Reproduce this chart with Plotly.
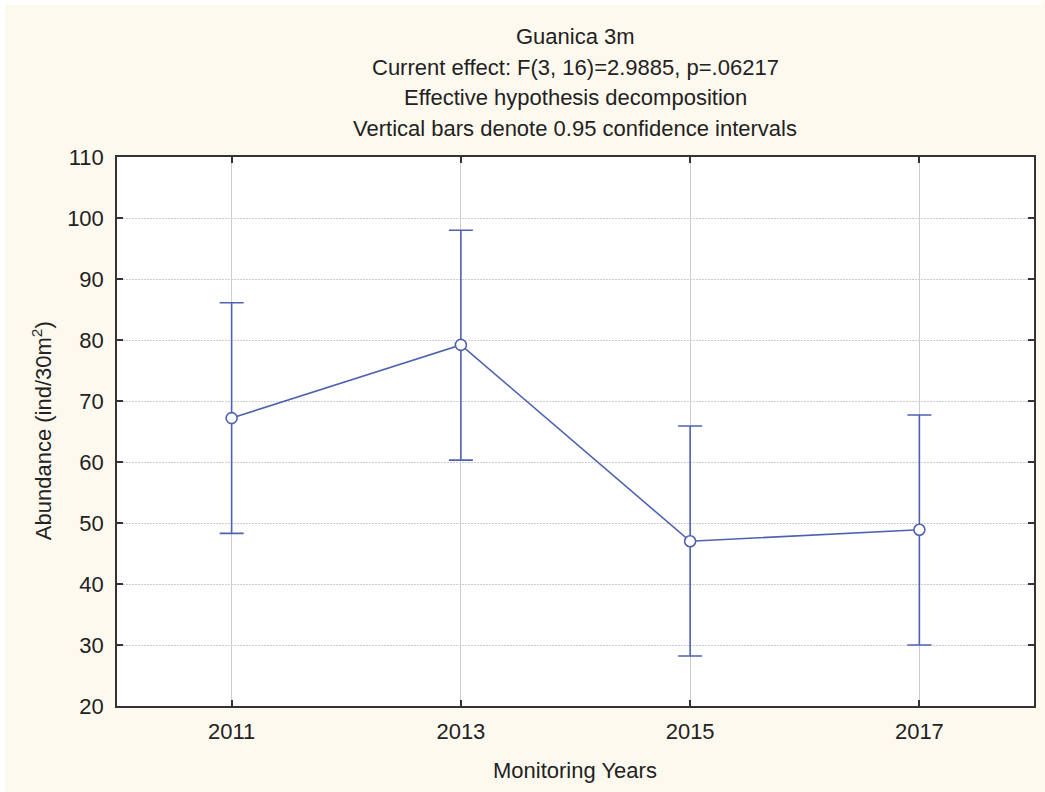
import plotly.graph_objects as go

years = [2011, 2013, 2015, 2017]
means = [67.2, 79.2, 47.0, 48.9]
upper = [86.1, 98.0, 65.9, 67.7]
lower = [48.3, 60.3, 28.2, 30.0]

title_lines = [
    "Guanica 3m",
    "Current effect: F(3, 16)=2.9885, p=.06217",
    "Effective hypothesis decomposition",
    "Vertical bars denote 0.95 confidence intervals",
]

line_color = "#4F62B2"
cream = "#FEF9EE"
font_family = "Liberation Sans, Arial, sans-serif"
text_color = "#222222"
fs = 22

err_plus = [u - m for u, m in zip(upper, means)]
err_minus = [m - l for m, l in zip(means, lower)]

fig = go.Figure()
fig.add_trace(go.Scatter(
    x=years, y=means, mode="lines+markers",
    line=dict(color=line_color, width=1.6),
    marker=dict(symbol="circle", size=11, color="white",
                line=dict(color=line_color, width=1.6)),
    error_y=dict(type="data", symmetric=False, array=err_plus,
                 arrayminus=err_minus, color=line_color,
                 thickness=1.6, width=12),
    showlegend=False,
))

L, R, T, B = 117, 9, 157, 86
W, H = 1045, 792
pw, ph = W - L - R, H - T - B

def py(y):
    return (H - B - y) / ph

def px(x):
    return (x - L) / pw

annotations = []
for txt, yc in zip(title_lines, [37, 67, 97, 128]):
    annotations.append(dict(
        text=txt, x=px(576), y=py(yc), xref="paper", yref="paper",
        xanchor="center", yanchor="middle", showarrow=False,
        font=dict(size=fs, color=text_color, family=font_family)))

annotations.append(dict(
    text="Monitoring Years", x=px(576), y=py(770), xref="paper", yref="paper",
    xanchor="center", yanchor="middle", showarrow=False,
    font=dict(size=fs, color=text_color, family=font_family)))
annotations.append(dict(
    text="Abundance (ind/30m<sup>2</sup>)", x=px(42), y=py(431), xref="paper",
    yref="paper", xanchor="center", yanchor="middle", showarrow=False,
    textangle=-90,
    font=dict(size=fs, color=text_color, family=font_family)))

shapes = [
    dict(type="rect", xref="paper", yref="paper", layer="below",
         x0=px(0), x1=px(W), y0=py(5), y1=py(0),
         fillcolor="white", line=dict(width=0)),
    dict(type="rect", xref="paper", yref="paper", layer="below",
         x0=px(0), x1=px(5), y0=py(H), y1=py(0),
         fillcolor="white", line=dict(width=0)),
]

axis_common = dict(
    showline=True, linecolor="#333333", linewidth=1.5, mirror="ticks",
    ticks="inside", ticklen=6, tickcolor="#333333", tickwidth=1.5,
    showgrid=True, gridcolor="#CDCDCD", gridwidth=1,
    zeroline=False,
    tickfont=dict(size=fs, color=text_color, family=font_family),
)

fig.update_layout(
    width=W, height=H,
    margin=dict(l=L, r=R, t=T, b=B, pad=0),
    paper_bgcolor=cream, plot_bgcolor="white",
    font=dict(family=font_family, color=text_color, size=fs),
    annotations=annotations, shapes=shapes,
    xaxis=dict(range=[2010, 2018], tickvals=years,
               ticktext=[str(y) for y in years], ticklabelstandoff=5,
               **axis_common),
    yaxis=dict(range=[20, 110], dtick=10, griddash="2px,1px",
               ticklabelstandoff=7, **axis_common),
)

fig.write_html("out.html", config={"displayModeBar": False},
               post_script="document.body.style.margin='0';document.body.style.overflow='hidden';")
